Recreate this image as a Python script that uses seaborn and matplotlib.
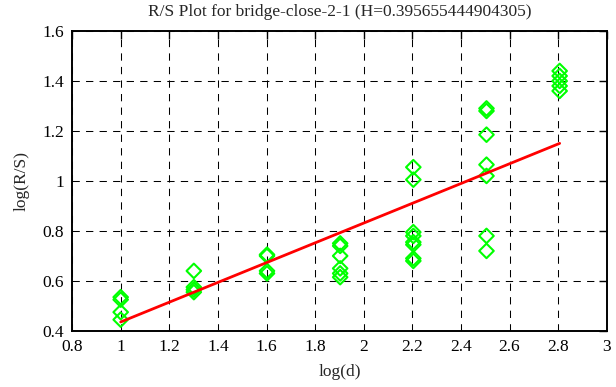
import numpy as np
import pandas as pd
import matplotlib
matplotlib.use("Agg")
import matplotlib.pyplot as plt
import seaborn as sns

# window sizes d, points per window (log10 of R/S)
d_values = [10, 20, 40, 80, 160, 320, 640]
rs_values = [
    [0.535, 0.525, 0.475, 0.445],
    [0.64, 0.575, 0.565, 0.555],
    [0.705, 0.700, 0.64, 0.63],
    [0.75, 0.74, 0.70, 0.65, 0.63, 0.615],
    [1.055, 1.005, 0.795, 0.78, 0.755, 0.745, 0.69, 0.68],
    [1.29, 1.28, 1.185, 1.065, 1.02, 0.78, 0.72],
    [1.44, 1.42, 1.40, 1.38, 1.36],
]
H = 0.395655444904305
intercept = 0.04

rows = []
for d, vals in zip(d_values, rs_values):
    for v in vals:
        rows.append({"logd": np.log10(d), "logrs": v})
df = pd.DataFrame(rows)

fit = pd.DataFrame({"logd": [np.log10(d_values[0]), np.log10(d_values[-1])]})
fit["logrs"] = intercept + H * fit["logd"]

sns.set_style("white")
plt.rcParams["font.family"] = ["Liberation Serif", "DejaVu Serif"]

fig = plt.figure(figsize=(6.16, 3.87), dpi=100)
ax = fig.add_axes([0.117, 0.145, 0.868, 0.775])

sns.scatterplot(data=df, x="logd", y="logrs", marker="D", s=55,
                facecolor="none", edgecolor="#00ff00", linewidth=1.5, ax=ax, zorder=3)
sns.lineplot(data=fit, x="logd", y="logrs", color="#ff0000", linewidth=2.0, ax=ax, zorder=4)

ax.set_xlim(0.8, 3.0)
ax.set_ylim(0.4, 1.6)
ax.set_xticks(np.arange(0.8, 3.01, 0.2))
ax.set_yticks(np.arange(0.4, 1.61, 0.2))
ax.set_xticklabels(["0.8", "1", "1.2", "1.4", "1.6", "1.8", "2", "2.2", "2.4", "2.6", "2.8", "3"])
ax.set_yticklabels(["0.4", "0.6", "0.8", "1", "1.2", "1.4", "1.6"])
ax.grid(True, color="black", linestyle=(0, (7, 6)), linewidth=0.75)
ax.tick_params(direction="in", length=6, width=1.0, top=True, right=True,
               labelsize=12.5, colors="black", pad=6)
for s in ax.spines.values():
    s.set_color("black")
    s.set_linewidth(1.4)

ax.set_title("R/S Plot for bridge-close-2-1 (H=0.395655444904305)", fontsize=12.5, pad=11)
ax.set_xlabel("log(d)", fontsize=12.5, labelpad=6)
ax.set_ylabel("log(R/S)", fontsize=12.5, labelpad=9)

fig.savefig("out.png", dpi=100)
